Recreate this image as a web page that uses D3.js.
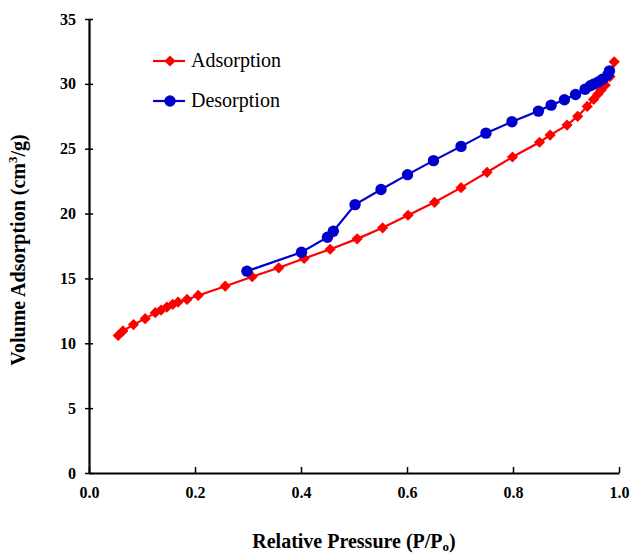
<!DOCTYPE html>
<html>
<head>
<meta charset="utf-8">
<script src="https://cdn.jsdelivr.net/npm/d3@7"></script>
<style>
  body { margin: 0; background: #fff; }
  text { font-family: "Liberation Serif", "Times New Roman", serif; }
</style>
</head>
<body>
<div id="chart"></div>
<script>
// isotherm data
var adsP = [0.055, 0.064, 0.084, 0.106, 0.125, 0.136, 0.147, 0.158, 0.168, 0.185, 0.206, 0.257, 0.308, 0.358, 0.406, 0.455, 0.506, 0.554, 0.602, 0.652, 0.702, 0.751, 0.799, 0.850, 0.870, 0.902, 0.922, 0.940, 0.952, 0.960, 0.966, 0.974, 0.983, 0.991]
var adsV = [10.6, 10.95, 11.44, 11.9, 12.36, 12.56, 12.79, 13.0, 13.18, 13.38, 13.69, 14.4, 15.13, 15.82, 16.54, 17.25, 18.05, 18.9, 19.87, 20.87, 22.0, 23.18, 24.36, 25.5, 26.05, 26.82, 27.5, 28.26, 28.8, 29.2, 29.5, 29.9, 30.56, 31.7]

var desP = [0.298, 0.401, 0.450, 0.461, 0.502, 0.551, 0.601, 0.650, 0.702, 0.749, 0.798, 0.848, 0.872, 0.897, 0.918, 0.936, 0.946, 0.953, 0.961, 0.969, 0.979, 0.982]
var desV = [15.56, 17.02, 18.18, 18.64, 20.69, 21.85, 23.0, 24.08, 25.18, 26.2, 27.08, 27.9, 28.36, 28.77, 29.18, 29.59, 29.85, 30.0, 30.15, 30.36, 30.7, 31.0]

var xTicks = [0, 0.2, 0.4, 0.6, 0.8, 1.0]
var yTicks = [0, 5, 10, 15, 20, 25, 30, 35]
var seriesNames = ["Adsorption", "Desorption"]

var width = 630
var height = 554
var margin = {left: 89, right: 11, top: 19, bottom: 81}

var svg = d3.select("#chart").append("svg")
  .attr("width", width)
  .attr("height", height)

var x = d3.scaleLinear().domain([0, 1]).range([margin.left, width - margin.right])
var y = d3.scaleLinear().domain([0, 35]).range([height - margin.bottom, margin.top])

var ads = adsP.map((p, i) => ({p: p, v: adsV[i]}))
var des = desP.map((p, i) => ({p: p, v: desV[i]}))

// axes
var xAxis = svg.append("g")
  .attr("transform", "translate(0," + y(0) + ")")
  .call(d3.axisBottom(x).tickValues(xTicks).tickFormat(d3.format(".1f")).tickSizeInner(-6).tickSizeOuter(0).tickPadding(14))
xAxis.select(".domain").attr("stroke-width", 2.2)
xAxis.selectAll(".tick line").attr("stroke-width", 1.5)
xAxis.selectAll("text").style("font-size", "16px").style("font-weight", "bold")

var yAxis = svg.append("g")
  .attr("transform", "translate(" + x(0) + ",0)")
  .call(d3.axisLeft(y).tickValues(yTicks).tickSizeInner(4).tickSizeOuter(0).tickPadding(9))
yAxis.select(".domain").attr("stroke-width", 2.2)
yAxis.selectAll(".tick line").attr("x2", 4).attr("x1", -4).attr("stroke-width", 1.5)
yAxis.selectAll("text").style("font-size", "16px").style("font-weight", "bold")

// titles
svg.append("text")
  .attr("x", 354).attr("y", 548)
  .attr("text-anchor", "middle")
  .style("font-size", "20px").style("font-weight", "bold")
  .html('Relative Pressure (P/P<tspan dy="3" font-size="13px">o</tspan><tspan dy="-3">)</tspan>')

svg.append("text")
  .attr("transform", "translate(25,250) rotate(-90)")
  .attr("text-anchor", "middle")
  .style("font-size", "20px").style("font-weight", "bold")
  .html('Volume Adsorption (cm<tspan dy="-8" font-size="13px">3</tspan><tspan dy="8">/g)</tspan>')

var line = d3.line().x(d => x(d.p)).y(d => y(d.v))

// adsorption
svg.append("path").datum(ads)
  .attr("d", line)
  .attr("fill", "none").attr("stroke", "#ff0000").attr("stroke-width", 2.2)

var diamond = d3.symbol().type(d3.symbolDiamond2).size(80)
svg.selectAll(".ads").data(ads).enter().append("path")
  .attr("class", "ads")
  .attr("d", diamond)
  .attr("transform", d => "translate(" + x(d.p) + "," + y(d.v) + ")")
  .attr("fill", "#ff0000")

// desorption
svg.append("path").datum(des)
  .attr("d", line)
  .attr("fill", "none").attr("stroke", "#0000cc").attr("stroke-width", 2.2)

svg.selectAll(".des").data(des).enter().append("circle")
  .attr("class", "des")
  .attr("cx", d => x(d.p)).attr("cy", d => y(d.v))
  .attr("r", 5.7)
  .attr("fill", "#0000cc")

// legend
var legColors = ["#ff0000", "#0000cc"]
var leg = svg.selectAll(".leg").data(seriesNames).enter().append("g")
  .attr("class", "leg")
  .attr("transform", (d, i) => "translate(153," + (61 + i * 40) + ")")
leg.append("line")
  .attr("x1", 0).attr("x2", 32)
  .attr("stroke", (d, i) => legColors[i]).attr("stroke-width", 2.2)
leg.each(function(d, i) {
  var g = d3.select(this)
  if (i == 0) {
    g.append("path").attr("d", diamond).attr("transform", "translate(17,0)").attr("fill", legColors[i])
  } else {
    g.append("circle").attr("cx", 17).attr("r", 5.7).attr("fill", legColors[i])
  }
})
leg.append("text")
  .attr("x", 38).attr("y", 6)
  .style("font-size", "20px")
  .text(d => d)
</script>
</body>
</html>
